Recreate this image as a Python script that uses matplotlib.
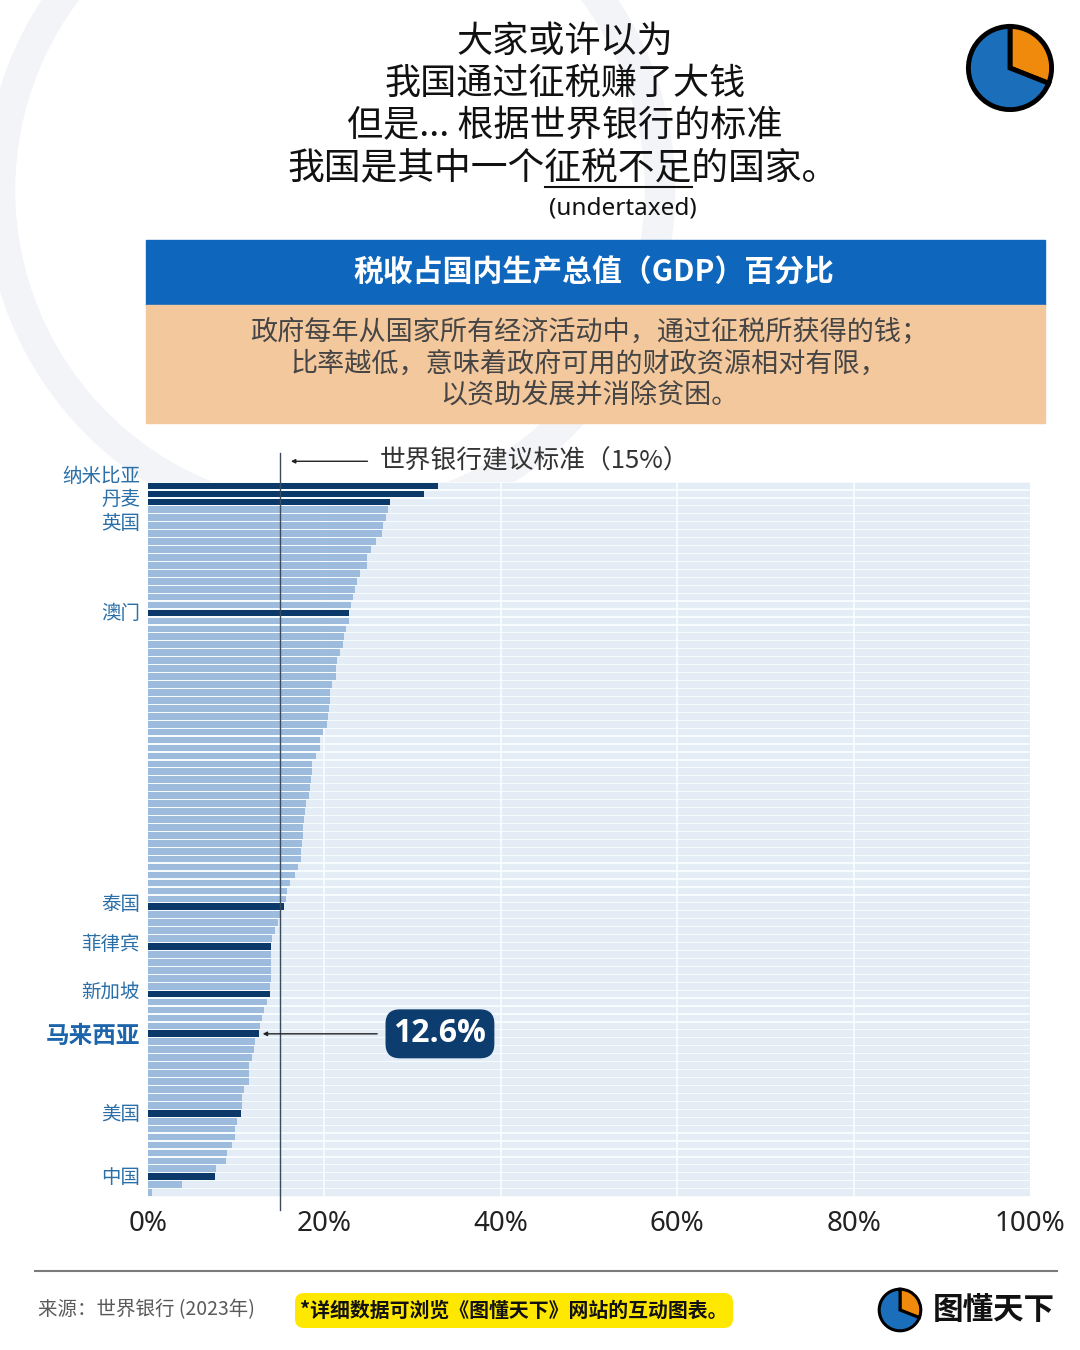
# -*- coding: utf-8 -*-
# 税收占GDP百分比 - 横向条形图
import numpy as np
import matplotlib
matplotlib.use('Agg')
import matplotlib.pyplot as plt
from matplotlib.patches import Rectangle, FancyBboxPatch, Circle

plt.rcParams['font.family'] = ['Noto Sans CJK SC', 'DejaVu Sans']

# 各国税收占GDP百分比 (从高到低, 共90个)
tax_pct = [32.9, 31.3, 27.4, 27.2, 27.0, 26.6, 26.5, 25.9, 25.3, 24.8,
           24.8, 24.0, 23.7, 23.5, 23.2, 23.0, 22.8, 22.8, 22.4, 22.2,
           22.1, 21.8, 21.4, 21.3, 21.3, 20.9, 20.6, 20.6, 20.5, 20.4,
           20.3, 19.8, 19.5, 19.5, 19.0, 18.6, 18.6, 18.5, 18.4, 18.3,
           17.9, 17.8, 17.7, 17.6, 17.6, 17.5, 17.4, 17.3, 17.0, 16.7,
           16.1, 15.8, 15.6, 15.4, 15.0, 14.7, 14.4, 14.1, 14.0, 14.0,
           14.0, 13.9, 13.9, 13.8, 13.8, 13.5, 13.2, 12.9, 12.7, 12.6,
           12.1, 12.0, 11.8, 11.5, 11.5, 11.5, 10.9, 10.7, 10.7, 10.6,
           10.1, 9.9, 9.9, 9.5, 9.0, 8.8, 7.7, 7.6, 3.9, 0.5]
# 高亮的国家/地区 (在列表中的序号)
hl_idx = [0, 1, 2, 16, 53, 58, 64, 69, 79, 87]
hl_names = ['纳米比亚', '丹麦', '英国', '澳门', '泰国', '菲律宾', '新加坡', '马来西亚', '美国', '中国']
malaysia_idx = 69
malaysia_val = 12.6
wb_standard = 15
xticks = [0, 20, 40, 60, 80, 100]
logo_share = [31, 69]

W, H = 1080, 1350
fig = plt.figure(figsize=(W / 100, H / 100), dpi=100)

# 背景层, 用像素坐标
bg = fig.add_axes([0, 0, 1, 1], zorder=0)
bg.set_xlim(0, W)
bg.set_ylim(H, 0)
bg.axis('off')

# 水印圆环 (很淡)
bg.add_patch(Circle((330, 190), 330, fill=False, ec='#f3f4f7', lw=22, zorder=0))

# 标题
title_lines = ['大家或许以为', '我国通过征税赚了大钱', '但是... 根据世界银行的标准']
for i, line in enumerate(title_lines):
    bg.text(565, 42 + i * 42, line, ha='center', va='center', fontsize=26, color='#111')
t4 = bg.text(563, 168, '我国是其中一个征税不足的国家。', ha='center', va='center',
             fontsize=26.5, color='#111')
bg.text(623, 208, '(undertaxed)', ha='center', va='center', fontsize=17.5,
        family=['Noto Sans', 'DejaVu Sans'], color='#111')

# 蓝色标题栏 + 说明栏
bg.add_patch(Rectangle((146, 240), 899, 65, color='#0e66bd', zorder=1))
bg.add_patch(Rectangle((146, 305), 899, 118, color='#f4c89d', zorder=1))
bg.text(594, 273, '税收占国内生产总值（GDP）百分比', ha='center', va='center',
        fontsize=21.5, fontweight='bold', color='white', zorder=2)
desc = ['政府每年从国家所有经济活动中，通过征税所获得的钱；',
        '比率越低，意味着政府可用的财政资源相对有限，',
        '以资助发展并消除贫困。']
for i, line in enumerate(desc):
    bg.text(589, 333 + i * 31, line, ha='center', va='center', fontsize=19.5,
            fontweight='light', color='#454545', zorder=2)

# 底部
bg.plot([35, 1057], [1271, 1271], color='#7a7a7a', lw=1.5)
bg.text(38, 1310, '来源：世界银行 (2023年)', ha='left', va='center', fontsize=14, color='#5a5a5a')
bg.add_patch(FancyBboxPatch((295, 1293), 438, 35, boxstyle='round,pad=0,rounding_size=9',
                            fc='#ffe800', ec='none'))
bg.text(514, 1310, '*详细数据可浏览《图懂天下》网站的互动图表。', ha='center', va='center',
        fontsize=14.3, fontweight='bold', color='#111')
bg.text(994, 1310, '图懂天下', ha='center', va='center', fontsize=22, fontweight='bold', color='#111')

# 主图
ax = fig.add_axes([148 / W, 1 - 1196.6 / H, 882 / W, 714.6 / H], zorder=2)
n = len(tax_pct)
y = np.arange(n)
ax.set_facecolor('#f6fbfe')
ax.barh(y, [100] * n, height=0.84, color='#e4ecf5', zorder=1)
for v in xticks[1:-1]:
    ax.axvline(v, color='white', lw=1.3, alpha=0.8, zorder=2)
colors = ['#0b3a6a' if i in hl_idx else '#9dbbdc' for i in range(n)]
ax.barh(y, tax_pct, height=0.84, color=colors, zorder=3)
ax.set_xlim(0, 100)
ax.set_ylim(n - 0.5, -0.5)

# 世界银行15%标准线
ax.axvline(wb_standard, ymin=-0.019, ymax=1.041, color='#3b4b5c', lw=1.0, zorder=4, clip_on=False)
ax.annotate('世界银行建议标准（15%）', xy=(16.2, 1.029), xycoords=('data', 'axes fraction'),
            xytext=(26.3, 1.029), textcoords=('data', 'axes fraction'),
            ha='left', va='center', fontsize=18.5, color='#333',
            arrowprops=dict(arrowstyle='-|>', color='#222', lw=1, shrinkA=7, shrinkB=0,
                            mutation_scale=6))

# 国家标签 (上下微调, 单位: 行)
label_shift = [-0.95, 1.05, 3.05, 0.35, 0, 0, 0, 0.45, 0.45, 0.35]
for idx, name, sh in zip(hl_idx, hl_names, label_shift):
    if idx == malaysia_idx:
        ax.text(-0.9, idx - 0.2 + sh, name, ha='right', va='center', fontsize=17,
                fontweight='bold', color='#1d65ab', clip_on=False)
    else:
        ax.text(-0.9, idx + sh - 0.3, name, ha='right', va='center', fontsize=14,
                color='#2a6fa8', clip_on=False)

# 马来西亚数值
ax.annotate(f'{malaysia_val}%', xy=(malaysia_val + 0.4, malaysia_idx), xytext=(33.1, malaysia_idx),
            ha='center', va='center', fontsize=23, fontweight='bold', color='white',
            family=['Open Sans', 'DejaVu Sans'], zorder=6,
            bbox=dict(boxstyle='round,pad=0.25,rounding_size=0.45', fc='#0d3d6e', ec='none'),
            arrowprops=dict(arrowstyle='-|>', color='#222', lw=1, shrinkA=6, shrinkB=0,
                            mutation_scale=6))

ax.set_xticks(xticks)
ax.set_xticklabels([f'{v}%' for v in xticks], fontsize=20, family=['Noto Sans', 'DejaVu Sans'],
                   color='#222')
ax.set_yticks([])
ax.tick_params(axis='x', length=0, pad=10)
for s in ax.spines.values():
    s.set_visible(False)

# 饼图标志
def draw_logo(cx, cy, r, lw):
    la = fig.add_axes([(cx - r) / W, 1 - (cy + r) / H, 2 * r / W, 2 * r / H], zorder=3)
    la.pie(logo_share, colors=['#f08a0c', '#1b6fba'], startangle=90, counterclock=False,
           wedgeprops=dict(edgecolor='black', linewidth=lw))
    la.set_aspect('equal')

draw_logo(1010, 68, 52, 3.5)
draw_logo(900, 1310, 26, 2.2)

# 下划线 "征税不足"
fig.canvas.draw()
bb = t4.get_window_extent()
inv = bg.transData.inverted()
x0, yb = inv.transform((bb.x0, bb.y0))
x1, _ = inv.transform((bb.x1, bb.y1))
cw = (x1 - x0) / 15
bg.plot([x0 + 7 * cw, x0 + 11 * cw], [yb - 1, yb - 1], color='#111', lw=1.5)

fig.savefig('out.png', dpi=100)
